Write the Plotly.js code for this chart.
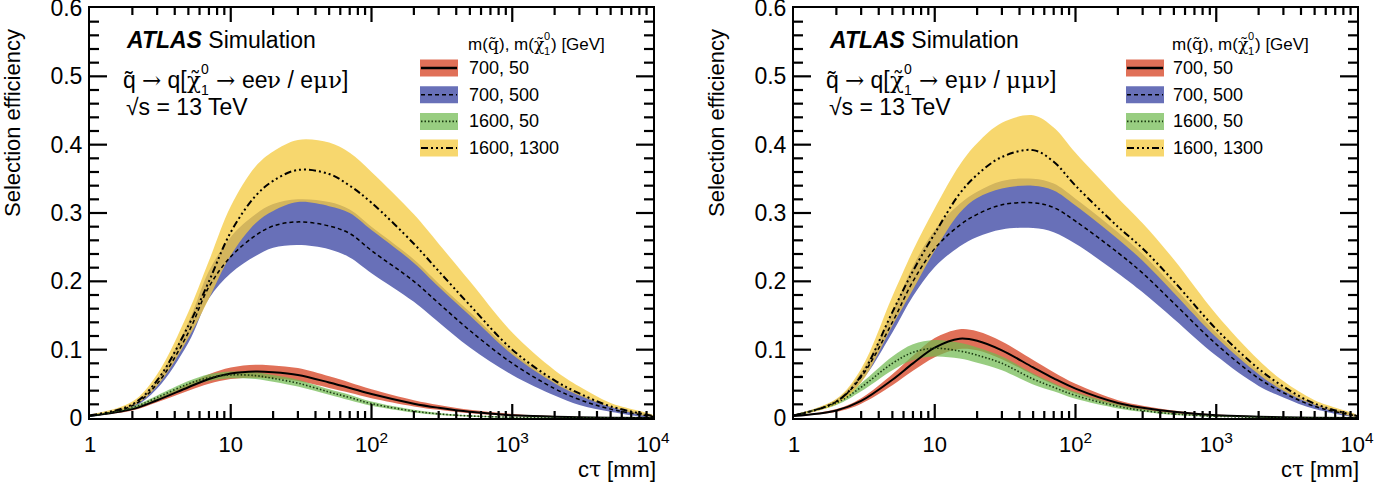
<!DOCTYPE html>
<html><head><meta charset="utf-8">
<script src="https://cdn.plot.ly/plotly-3.0.1.min.js"></script>
<style>html,body{margin:0;padding:0;background:#fff}#chart{width:1374px;height:482px}</style>
</head><body><div id="chart"></div>
<script>
// ---------- data ----------
const ctau = [1, 2, 3, 5, 7, 10, 15, 20, 30, 50, 70, 100, 200, 300, 500, 1000, 2000, 3000, 5000, 10000];

// Left panel: q~ -> q[chi -> eev / emuv]
const L_700_50    = [0.003, 0.013, 0.026, 0.045, 0.057, 0.065, 0.068, 0.067, 0.063, 0.052, 0.044, 0.035, 0.021, 0.015, 0.009, 0.004, 0.002, 0.001, 0.0005, 0];
const L_700_50_hi = [0.0035, 0.015, 0.029, 0.05, 0.064, 0.074, 0.078, 0.077, 0.073, 0.061, 0.052, 0.042, 0.026, 0.019, 0.012, 0.006, 0.003, 0.0018, 0.001, 0.0002];
const L_700_50_lo = [0.0025, 0.011, 0.023, 0.04, 0.05, 0.057, 0.059, 0.058, 0.054, 0.044, 0.037, 0.029, 0.017, 0.012, 0.007, 0.003, 0.0013, 0.0006, 0.0002, 0];

const L_700_500    = [0.003, 0.018, 0.05, 0.125, 0.192, 0.236, 0.267, 0.281, 0.287, 0.281, 0.27, 0.245, 0.2, 0.168, 0.128, 0.08, 0.043, 0.027, 0.013, 0.002];
const L_700_500_hi = [0.004, 0.021, 0.057, 0.14, 0.215, 0.265, 0.298, 0.313, 0.32, 0.316, 0.305, 0.28, 0.232, 0.197, 0.155, 0.097, 0.054, 0.035, 0.017, 0.003];
const L_700_500_lo = [0.002, 0.015, 0.043, 0.11, 0.175, 0.212, 0.237, 0.249, 0.253, 0.247, 0.235, 0.212, 0.17, 0.14, 0.103, 0.063, 0.033, 0.019, 0.009, 0.001];

const L_1600_50    = [0.003, 0.015, 0.03, 0.05, 0.059, 0.063, 0.062, 0.058, 0.051, 0.038, 0.03, 0.021, 0.01, 0.006, 0.003, 0.0012, 0.0005, 0.0003, 0.0001, 0];
const L_1600_50_hi = [0.0035, 0.017, 0.033, 0.054, 0.064, 0.068, 0.067, 0.063, 0.056, 0.042, 0.034, 0.024, 0.012, 0.0075, 0.004, 0.0018, 0.0008, 0.0005, 0.0002, 0];
const L_1600_50_lo = [0.0025, 0.013, 0.027, 0.046, 0.054, 0.058, 0.057, 0.053, 0.046, 0.034, 0.026, 0.018, 0.008, 0.0045, 0.002, 0.0008, 0.0003, 0.0001, 0, 0];

const L_1600_1300    = [0.004, 0.02, 0.055, 0.135, 0.2, 0.272, 0.325, 0.347, 0.363, 0.357, 0.34, 0.315, 0.255, 0.215, 0.165, 0.1, 0.055, 0.036, 0.017, 0.003];
const L_1600_1300_hi = [0.005, 0.024, 0.064, 0.155, 0.23, 0.31, 0.368, 0.39, 0.407, 0.403, 0.388, 0.36, 0.298, 0.255, 0.2, 0.125, 0.07, 0.046, 0.022, 0.004];
const L_1600_1300_lo = [0.003, 0.017, 0.047, 0.117, 0.175, 0.238, 0.285, 0.303, 0.316, 0.31, 0.3, 0.275, 0.227, 0.192, 0.15, 0.093, 0.051, 0.033, 0.016, 0.002];

// Right panel: q~ -> q[chi -> emuv / mumuv]
const R_700_50    = [0.003, 0.011, 0.025, 0.056, 0.08, 0.103, 0.116, 0.113, 0.099, 0.074, 0.058, 0.043, 0.022, 0.015, 0.009, 0.004, 0.002, 0.001, 0.0005, 0];
const R_700_50_hi = [0.0035, 0.013, 0.029, 0.064, 0.091, 0.117, 0.13, 0.127, 0.112, 0.085, 0.067, 0.05, 0.026, 0.018, 0.011, 0.005, 0.0025, 0.0013, 0.0006, 0];
const R_700_50_lo = [0.0025, 0.009, 0.021, 0.048, 0.069, 0.089, 0.101, 0.099, 0.086, 0.063, 0.049, 0.036, 0.018, 0.012, 0.007, 0.003, 0.0015, 0.0007, 0.0003, 0];

const R_700_500    = [0.004, 0.024, 0.06, 0.14, 0.2, 0.248, 0.282, 0.298, 0.312, 0.315, 0.308, 0.288, 0.242, 0.212, 0.168, 0.108, 0.058, 0.037, 0.017, 0.003];
const R_700_500_hi = [0.005, 0.027, 0.067, 0.155, 0.222, 0.275, 0.313, 0.331, 0.347, 0.35, 0.343, 0.321, 0.272, 0.24, 0.192, 0.125, 0.069, 0.044, 0.021, 0.004];
const R_700_500_lo = [0.003, 0.021, 0.053, 0.125, 0.178, 0.221, 0.251, 0.265, 0.276, 0.278, 0.272, 0.255, 0.212, 0.184, 0.145, 0.091, 0.047, 0.03, 0.013, 0.002];

const R_1600_50    = [0.004, 0.022, 0.045, 0.08, 0.096, 0.102, 0.098, 0.092, 0.08, 0.057, 0.045, 0.033, 0.017, 0.011, 0.006, 0.0025, 0.001, 0.0006, 0.0002, 0];
const R_1600_50_hi = [0.0045, 0.025, 0.051, 0.09, 0.108, 0.114, 0.11, 0.103, 0.09, 0.065, 0.051, 0.038, 0.02, 0.013, 0.0075, 0.0032, 0.0014, 0.0008, 0.0003, 0];
const R_1600_50_lo = [0.0035, 0.019, 0.039, 0.07, 0.085, 0.09, 0.087, 0.081, 0.07, 0.049, 0.039, 0.028, 0.014, 0.009, 0.0045, 0.0018, 0.0007, 0.0004, 0.0001, 0];

const R_1600_1300    = [0.004, 0.024, 0.062, 0.155, 0.215, 0.27, 0.328, 0.356, 0.382, 0.392, 0.375, 0.34, 0.28, 0.248, 0.2, 0.13, 0.072, 0.046, 0.021, 0.003];
const R_1600_1300_hi = [0.005, 0.028, 0.072, 0.178, 0.245, 0.307, 0.37, 0.402, 0.432, 0.443, 0.425, 0.388, 0.322, 0.285, 0.232, 0.152, 0.085, 0.054, 0.026, 0.004];
const R_1600_1300_lo = [0.003, 0.02, 0.052, 0.135, 0.188, 0.245, 0.3, 0.322, 0.336, 0.34, 0.333, 0.311, 0.262, 0.23, 0.183, 0.118, 0.064, 0.04, 0.019, 0.002];

const legendLabels = ['700, 50', '700, 500', '1600, 50', '1600, 1300'];
const xTickVals = [1, 10, 100, 1000, 10000];
const xTickText = ['1', '10', '10<sup>2</sup>', '10<sup>3</sup>', '10<sup>4</sup>'];
const yTickVals = [0, 0.1, 0.2, 0.3, 0.4, 0.5, 0.6];
const yTickText = ['0', '0.1', '0.2', '0.3', '0.4', '0.5', '0.6'];
const decayTails = [['ee', 'ν', ' / e', 'μν', ']'], ['e', 'μν', ' / ', 'μμν', ']']];

// ---------- styling ----------
const W = 1374, H = 482;
const px = x => x / W, py = y => 1 - y / H;
const SANS = 'Liberation Sans';
const SERIF = 'DejaVu Serif';
const bandColors = ['rgb(224,112,88)', 'rgb(104,112,184)', 'rgba(112,186,80,0.72)', 'rgba(244,202,64,0.76)'];
const lineStyles = [
  {color: 'black', width: 2, dash: 'solid'},
  {color: 'black', width: 1.5, dash: '4px,3px'},
  {color: '#1a3a10', width: 1.6, dash: '1.5px,2px'},
  {color: 'black', width: 2, dash: '7px,3px,2px,3px,2px,3px,2px,3px'}
];
const frames = [{x0: 90, x1: 653, y0: 8, y1: 418}, {x0: 794, x1: 1357, y0: 8, y1: 418}];
const XR = [0, 4], YR = [0, 0.6];

const minorX = [];
[1, 10, 100, 1000].forEach(d => { for (let k = 2; k <= 9; k++) minorX.push(k * d); });
const minorY = [];
for (let k = 1; k < 30; k++) if (k % 5) minorY.push(k * 0.02);

function bandTrace(xa, ya, hi, lo, color) {
  return {x: ctau.concat(ctau.slice().reverse()), y: hi.concat(lo.slice().reverse()),
    xaxis: xa, yaxis: ya, type: 'scatter', mode: 'lines', fill: 'toself', fillcolor: color,
    line: {width: 0, shape: 'spline', smoothing: 1}, hoverinfo: 'skip', showlegend: false};
}
function lineTrace(xa, ya, y, st) {
  return {x: ctau, y: y, xaxis: xa, yaxis: ya, type: 'scatter', mode: 'lines',
    line: {color: st.color, width: st.width, dash: st.dash, shape: 'spline', smoothing: 1},
    hoverinfo: 'skip', showlegend: false};
}
// tick marks as line segments in axis units (lengths given in pixels)
function tickTrace(xa, ya, f) {
  const dyPix = (YR[1] - YR[0]) / (f.y1 - f.y0), dxPix = (XR[1] - XR[0]) / (f.x1 - f.x0);
  const X = [], Y = [];
  const xt = (v, len) => { const d = len * dyPix;
    X.push(v, v, null, v, v, null); Y.push(YR[0], YR[0] + d, null, YR[1], YR[1] - d, null); };
  const yt = (v, len) => { const d = len * dxPix;
    X.push(Math.pow(10, XR[0]), Math.pow(10, XR[0] + d), null, Math.pow(10, XR[1]), Math.pow(10, XR[1] - d), null);
    Y.push(v, v, null, v, v, null); };
  xTickVals.slice(1, -1).forEach(v => xt(v, 14)); minorX.forEach(v => xt(v, 7));
  yTickVals.slice(1, -1).forEach(v => yt(v, 17)); minorY.forEach(v => yt(v, 9));
  return {x: X, y: Y, xaxis: xa, yaxis: ya, type: 'scatter', mode: 'lines', connectgaps: false,
    line: {color: 'black', width: 2.2}, hoverinfo: 'skip', showlegend: false, cliponaxis: false};
}

const panels = [
  {xa: 'x', ya: 'y', c: [L_700_50, L_700_500, L_1600_50, L_1600_1300],
   hi: [L_700_50_hi, L_700_500_hi, L_1600_50_hi, L_1600_1300_hi],
   lo: [L_700_50_lo, L_700_500_lo, L_1600_50_lo, L_1600_1300_lo]},
  {xa: 'x2', ya: 'y2', c: [R_700_50, R_700_500, R_1600_50, R_1600_1300],
   hi: [R_700_50_hi, R_700_500_hi, R_1600_50_hi, R_1600_1300_hi],
   lo: [R_700_50_lo, R_700_500_lo, R_1600_50_lo, R_1600_1300_lo]}
];

const data = [];
panels.forEach((p, k) => {
  for (let i = 0; i < 4; i++) data.push(bandTrace(p.xa, p.ya, p.hi[i], p.lo[i], bandColors[i]));
  for (let i = 0; i < 4; i++) data.push(lineTrace(p.xa, p.ya, p.c[i], lineStyles[i]));
  data.push(tickTrace(p.xa, p.ya, frames[k]));
});

function xAxis(f, anchor) {
  return {domain: [px(f.x0), px(f.x1)], anchor: anchor, type: 'log', range: XR, tickmode: 'array',
    tickvals: xTickVals, ticktext: xTickText, ticks: '',
    showline: true, linewidth: 2, linecolor: 'black', mirror: true, showgrid: false, zeroline: false,
    tickfont: {family: SANS, size: 22, color: 'black'}, ticklabeloverflow: 'allow', ticklabelstandoff: 6};
}
function yAxis(f, anchor) {
  return {domain: [py(f.y1), py(f.y0)], anchor: anchor, range: YR, tickmode: 'array',
    tickvals: yTickVals, ticktext: yTickText, ticks: '',
    showline: true, linewidth: 2, linecolor: 'black', mirror: true, showgrid: false, zeroline: false,
    tickfont: {family: SANS, size: 23, color: 'black'}, ticklabeloverflow: 'allow', ticklabelstandoff: 1};
}

// ---------- text helpers ----------
const cv = document.createElement('canvas').getContext('2d');
function measure(t, fam, size) {
  cv.font = size + 'px "' + fam + '"';
  return cv.measureText(t).width;
}
const annotations = [], shapes = [];
function txt(x, y, text, size, opts, fam) {
  annotations.push(Object.assign({xref: 'paper', yref: 'paper', x: px(x), y: py(y), text: text, showarrow: false,
    xanchor: 'left', yanchor: 'middle', borderpad: 0, font: {family: fam || SANS, size: size, color: 'black'}}, opts || {}));
}
function richLine(x, y, size, segs) {
  let cx = x;
  segs.forEach(s => {
    if (s.idx) {
      const is = Math.round(size * 0.62);
      txt(cx, y - size * 0.48, s.idx[0], is);
      txt(cx, y + size * 0.44, s.idx[1], is);
      cx += Math.max(measure(s.idx[0], SANS, is), measure(s.idx[1], SANS, is)) + 1;
    } else {
      const fam = s.fam || SANS;
      txt(cx, y, s.t, size, null, fam);
      cx += measure(s.t, fam, size);
    }
  });
}

const offs = [{lx: 420, tx: 468, ax: 125, ytitle: 12, xtitle: 655},
              {lx: 1126, tx: 1172, ax: 828, ytitle: 716, xtitle: 1358}];

offs.forEach((o, k) => {
  txt(o.ax, 40, '<b><i>ATLAS</i></b> Simulation', 23);
  const tail = decayTails[k];
  const segs = [{t: 'q̃ '}, {t: '→', fam: SERIF}, {t: ' q['}, {t: 'χ̃', fam: SERIF}, {idx: ['0', '1']}, {t: ' '}, {t: '→', fam: SERIF}, {t: ' '}];
  tail.forEach(t => segs.push({t: t, fam: /[νμ]/.test(t) ? SERIF : SANS}));
  richLine(o.ax - 3, 80, 23, segs);
  txt(o.ax, 107, '√s = 13 TeV', 23);
  txt(o.ytitle, 28, 'Selection efficiency', 22, {textangle: -90, xanchor: 'center', yanchor: 'top'});
  const wmm = measure(' [mm]', SANS, 22), wt = measure('τ', SERIF, 22), wc = measure('c', SANS, 22);
  richLine(o.xtitle - wmm - wt - wc, 469, 22, [{t: 'c'}, {t: 'τ', fam: SERIF}, {t: ' [mm]'}]);
  richLine(o.tx - 1, 44, 17, [{t: 'm('}, {t: 'q̃', fam: SERIF}, {t: '), m('}, {t: 'χ̃', fam: SERIF}, {idx: ['0', '1']}, {t: ') [GeV]'}]);
  legendLabels.forEach((lab, i) => {
    const yc = 68 + i * 26.7;
    shapes.push({type: 'rect', xref: 'paper', yref: 'paper', x0: px(o.lx), x1: px(o.lx + 38),
      y0: py(yc + 8.5), y1: py(yc - 8.5), fillcolor: bandColors[i], line: {width: 0}});
    shapes.push({type: 'line', xref: 'paper', yref: 'paper', x0: px(o.lx + 1), x1: px(o.lx + 37),
      y0: py(yc), y1: py(yc), line: {color: lineStyles[i].color, width: i === 0 ? 2.5 : lineStyles[i].width, dash: lineStyles[i].dash}});
    txt(o.tx, yc, lab, 18);
  });
});

const layout = {
  width: W, height: H, margin: {l: 0, r: 0, t: 0, b: 0}, paper_bgcolor: 'white', plot_bgcolor: 'white',
  showlegend: false,
  xaxis: xAxis(frames[0], 'y'), yaxis: yAxis(frames[0], 'x'),
  xaxis2: xAxis(frames[1], 'y2'), yaxis2: yAxis(frames[1], 'x2'),
  annotations: annotations, shapes: shapes
};

Plotly.newPlot('chart', data, layout, {staticPlot: true, displayModeBar: false});
</script>
</body></html>
